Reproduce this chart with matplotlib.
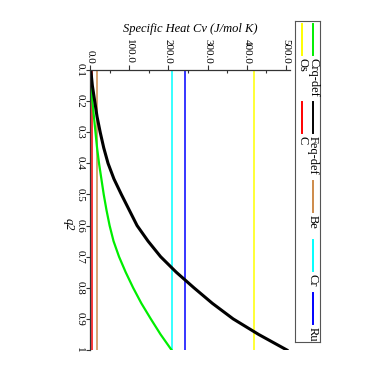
import matplotlib
matplotlib.use("Agg")

import matplotlib.pyplot as plt
from matplotlib.lines import Line2D

plt.rcParams["font.family"] = ["Liberation Serif", "DejaVu Serif"]

# q2 values along the curves, Cv
q2 = [0.10, 0.15, 0.20, 0.25, 0.30, 0.35, 0.40, 0.45, 0.50, 0.55,
      0.60, 0.65, 0.70, 0.75, 0.80, 0.85, 0.90, 0.95, 1.00]
crq_def = [1, 3, 6, 10, 14, 18, 23, 29, 35, 42,
           50, 60, 74, 91, 110, 131, 155, 180, 208]
feq_def = [2, 6, 12, 18, 26, 35, 46, 61, 80, 100,
           120, 148, 180, 220, 265, 312, 365, 430, 502]

# constant Cv of the elements
elements = ["Be", "Cr", "Ru", "Os", "C"]
element_cv = [17, 210, 243, 418, 6]

cv_ticks = [0, 100, 200, 300, 400, 500]
cv_labels = ["0.0", "100.0", "200.0", "300.0", "400.0", "500.0"]
q2_ticks = [0.1, 0.2, 0.3, 0.4, 0.5, 0.6, 0.7, 0.8, 0.9, 1.0]
q2_labels = ["0.1", "0.2", "0.3", "0.4", "0.5", "0.6", "0.7", "0.8", "0.9", "1"]

colors = {"Crq-def": "#00ee00", "Feq-def": "black", "Be": "#cd8a4a",
          "Cr": "#00ffff", "Ru": "#0000ff", "Os": "#ffff00", "C": "#ff0000"}

W = 382
fig = plt.figure(figsize=(3.82, 3.82), dpi=100)
# chart is drawn turned a quarter turn: Cv runs left-right, q2 top-bottom
ax = fig.add_axes([90 / W, 1 - 350 / W, 200 / W, 280 / W])

for name, cv in zip(elements, element_cv):
    ax.plot([cv, cv], [q2[0], q2[-1]], color=colors[name], lw=1.1)
ax.plot(crq_def, q2, color=colors["Crq-def"], lw=1.6)
ax.plot(feq_def, q2, color=colors["Feq-def"], lw=2.2)

ax.set_xlim(0, 510)
ax.set_ylim(1.0, 0.1)

for s in ["right", "bottom"]:
    ax.spines[s].set_visible(False)
for s in ["top", "left"]:
    ax.spines[s].set_color("#333333")
    ax.spines[s].set_linewidth(0.9)

ax.xaxis.tick_top()
ax.xaxis.set_label_position("top")
ax.set_xticks(cv_ticks)
ax.set_xticklabels(cv_labels, rotation=-90, fontsize=8, ha="center", va="bottom")
ax.set_xticks([50, 150, 250, 350, 450], minor=True)
ax.tick_params(axis="x", which="major", direction="out", length=3.5, width=0.8, pad=1.2, color="#333333")
ax.tick_params(axis="x", which="minor", direction="in", length=2.5, width=0.8, color="#333333")

ax.set_yticks(q2_ticks)
ax.set_yticklabels(q2_labels, rotation=-90, fontsize=8, ha="right", va="center")
ax.tick_params(axis="y", which="major", direction="out", length=3, width=0.8, pad=1.2, color="#333333")

ax.set_xlabel("Specific Heat Cv (J/mol K)", fontsize=9, fontstyle="italic", labelpad=5)
ax.set_ylabel("q2", fontsize=9, fontstyle="italic", rotation=-90, labelpad=3, va="center")
ax.yaxis.set_label_coords(-0.105, 0.45)

# legend box, turned like the rest of the chart
lax = fig.add_axes([295 / W, 1 - 342 / W, 25 / W, 321 / W])
lax.set_xlim(295, 320)
lax.set_ylim(342, 21)
lax.set_xticks([])
lax.set_yticks([])
for s in lax.spines.values():
    s.set_color("#555555")
    s.set_linewidth(0.8)

legend_rows = [["Crq-def", "Feq-def", "Be", "Cr", "Ru"], ["Os", "C"]]
row_x = [313, 302]
col_start = [24, 102, 181, 240, 293]
handle_len = 31
for r, row in enumerate(legend_rows):
    for c, name in enumerate(row):
        y0 = col_start[c]
        lax.add_line(Line2D([row_x[r], row_x[r]], [y0, y0 + handle_len],
                            color=colors[name], lw=1.4))
        lax.text(row_x[r], y0 + handle_len + 3, name, rotation=-90,
                 fontsize=9, ha="center", va="top")

fig.savefig("out.png", dpi=100)
